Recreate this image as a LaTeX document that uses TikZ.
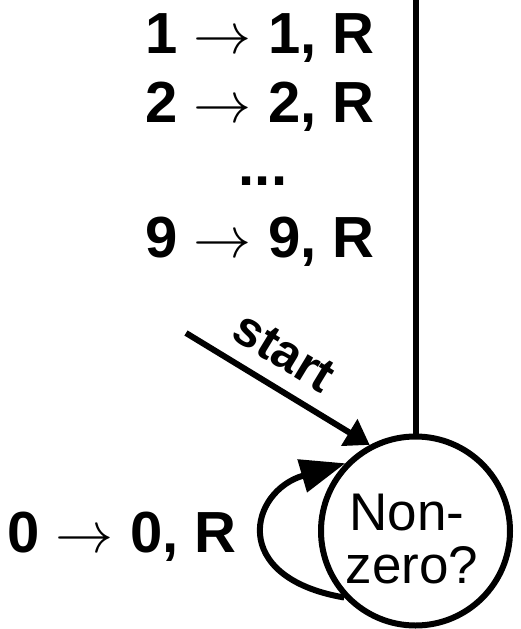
\documentclass[tikz,border=0pt]{standalone}
\usepackage{fontspec}
\setmainfont{Liberation Sans}
\usetikzlibrary{arrows.meta}
\newcommand\maparrow{\scalebox{5.8}{\fontsize{10}{12}\selectfont$\rightarrow$}}
\begin{document}
\begin{tikzpicture}[x=1pt,y=-1pt,
  lbl/.style={anchor=base, inner sep=0pt, font=\fontsize{58}{60}\selectfont\bfseries},
  st/.style={anchor=base, inner sep=0pt, font=\fontsize{53}{53}\selectfont},
  thick6/.style={line width=6pt},
  state/.style={circle, draw, line width=6pt, minimum size=189pt, inner sep=0pt}]
\useasboundingbox (0,0) rectangle (520,629);
% labels of the top transition
\node[lbl] (r1) at (260,53) {1 \maparrow{} 1, R};
\node[lbl] (r2) at (260,122) {2 \maparrow{} 2, R};
\node[lbl] (r3) at (263,185) {...};
\node[lbl] (r4) at (260,257) {9 \maparrow{} 9, R};
% loop label
\node[lbl] (r0) at (122,552) {0 \maparrow{} 0, R};
% state
\node[state] (c) at (415.5,531) {};
\node[st] (t1) at (407,530) {Non-};
\node[st] (t2) at (412,583) {zero?};
% top edge
\coordinate (top) at (415.5,-5);
\draw[thick6] (top) -- (c.north);
% start arrow
\coordinate (s) at (186,333);
\draw[thick6, -{Triangle[length=24pt,width=30pt]}] (s) -- (c.118);
\node[rotate=-31.3, inner sep=0pt, font=\fontsize{50}{50}\selectfont\bfseries] (sl) at (284,352) {start};
% self loop
\draw[thick6, -{Triangle[length=45pt,width=33pt]}] (c.223) .. controls +(-116,-20) and +(-96,28) .. (c.136);
\end{tikzpicture}
\end{document}
